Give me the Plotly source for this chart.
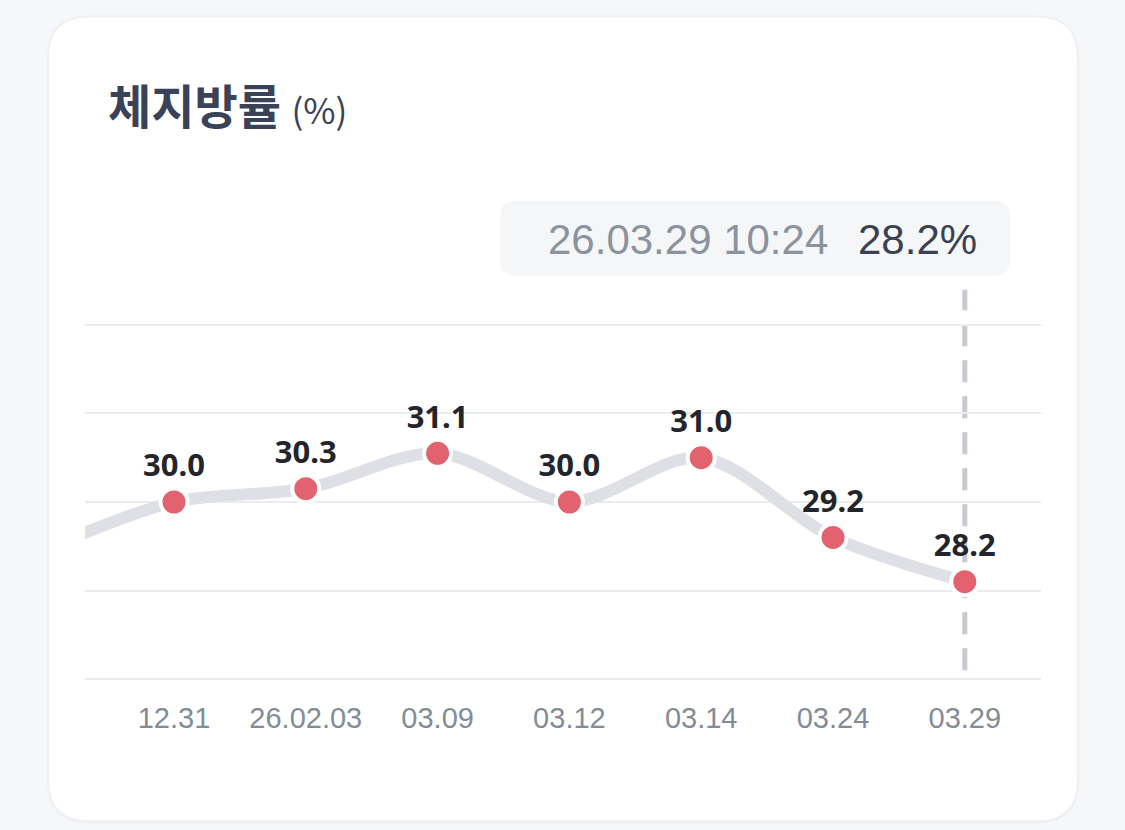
import plotly.graph_objects as go

# data
dates = ["12.31", "26.02.03", "03.09", "03.12", "03.14", "03.24", "03.29"]
body_fat = [30.0, 30.3, 31.1, 30.0, 31.0, 29.2, 28.2]
prev_value = 28.9  # point before 12.31, only its line segment is visible

tooltip_time = "26.03.29 10:24"
tooltip_value = "28.2%"

W, H = 1125, 830
Y_MIN, Y_MAX = 25.8, 34.2
unit = (679 - 325) / 8.0          # px per 1 % on the reference
L, R = 85, 1041
T = 325 - (Y_MAX - 34) * unit
B = 679 + (26 - Y_MIN) * unit


def px(x):
    return (x - L) / (R - L)


def py(y):
    return (B - y) / (B - T)


def rounded_rect(x0, y0, x1, y1, r):
    # pixel box -> paper path with rounded corners
    return (f"M{px(x0 + r)},{py(y0)} L{px(x1 - r)},{py(y0)} "
            f"Q{px(x1)},{py(y0)} {px(x1)},{py(y0 + r)} "
            f"L{px(x1)},{py(y1 - r)} Q{px(x1)},{py(y1)} {px(x1 - r)},{py(y1)} "
            f"L{px(x0 + r)},{py(y1)} Q{px(x0)},{py(y1)} {px(x0)},{py(y1 - r)} "
            f"L{px(x0)},{py(y0 + r)} Q{px(x0)},{py(y0)} {px(x0 + r)},{py(y0)} Z")


xs = list(range(len(dates)))

fig = go.Figure()

# smooth grey line, including the off-screen previous point
fig.add_trace(go.Scatter(
    x=[-1] + xs, y=[prev_value] + body_fat,
    mode="lines",
    line=dict(color="#dfe0e5", width=12, shape="spline", smoothing=0.9),
    hoverinfo="skip", showlegend=False,
))

fig.add_trace(go.Scatter(
    x=xs, y=body_fat,
    mode="markers+text",
    marker=dict(size=27, color="#e2636f", line=dict(color="white", width=4)),
    text=[f"{v:.1f}" for v in body_fat],
    textposition="top center",
    textfont=dict(family="Noto Sans", size=31, color="#23252b", weight="bold"),
    cliponaxis=False,
    hoverinfo="skip", showlegend=False,
))

shapes = [
    # card shadow + card
    dict(type="path", xref="paper", yref="paper", layer="below",
         path=rounded_rect(47, 16, 1079, 823, 42),
         fillcolor="#eff0f3", line=dict(width=0)),
    dict(type="path", xref="paper", yref="paper", layer="below",
         path=rounded_rect(49, 18, 1077, 820, 40),
         fillcolor="white", line=dict(width=0)),
    # tooltip box
    dict(type="path", xref="paper", yref="paper", layer="below",
         path=rounded_rect(500, 201, 1010, 276, 16),
         fillcolor="#f5f6f8", line=dict(width=0)),
    # dashed cursor line at the last point
    dict(type="line", xref="x", yref="paper", layer="below",
         x0=xs[-1], x1=xs[-1], y0=py(670), y1=py(290),
         line=dict(color="#c8cad0", width=5, dash="22px,14px")),
]

annotations = [
    dict(xref="paper", yref="paper", x=px(106), y=py(104),
         xanchor="left", yanchor="middle", showarrow=False,
         text="<b>체지방률</b> <span style='font-size:35px'>(%)</span>",
         font=dict(family="Noto Sans CJK KR", size=47, color="#3a4258")),
    dict(xref="paper", yref="paper", x=px(546), y=py(240),
         xanchor="left", yanchor="middle", showarrow=False,
         text=tooltip_time,
         font=dict(family="Liberation Sans", size=42, color="#8b939f")),
    dict(xref="paper", yref="paper", x=px(856), y=py(240),
         xanchor="left", yanchor="middle", showarrow=False,
         text=tooltip_value,
         font=dict(family="Liberation Sans", size=42, color="#3a4152")),
]

fig.update_layout(
    width=W, height=H,
    margin=dict(l=L, r=W - R, t=T, b=H - B, pad=0),
    paper_bgcolor="#f6f7f9",
    plot_bgcolor="rgba(0,0,0,0)",
    shapes=shapes,
    annotations=annotations,
    showlegend=False,
)

fig.update_xaxes(
    range=[(L - 174) / 131.8, (R - 174) / 131.8],
    tickvals=xs, ticktext=dates,
    showgrid=False, zeroline=False, showline=False, ticks="",
    tickfont=dict(family="Liberation Sans", size=29, color="#838b98"),
    ticklabelstandoff=10,
    fixedrange=True,
)
fig.update_yaxes(
    range=[Y_MIN, Y_MAX],
    tickvals=[26, 28, 30, 32, 34],
    showticklabels=False,
    showgrid=True, gridcolor="#ebecef", gridwidth=2,
    zeroline=False, showline=False,
    fixedrange=True,
)

fig.write_html(
    "out.html",
    config={"displayModeBar": False},
    post_script="document.body.style.margin='0';"
                "document.body.style.background='#f6f7f9';",
)
